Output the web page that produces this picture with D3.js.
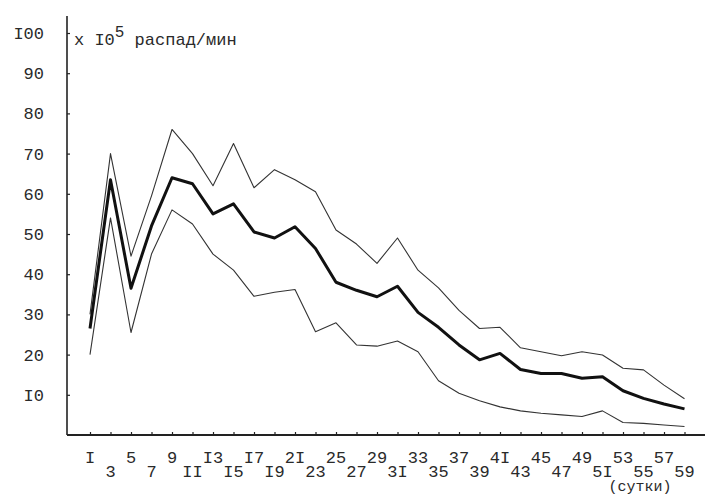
<!DOCTYPE html>
<html>
<head>
<meta charset="utf-8">
<script src="https://cdn.jsdelivr.net/npm/d3@7"></script>
<style>
  html, body { margin: 0; padding: 0; background: #fff; }
  svg { display: block; }
  text { font-family: "Liberation Mono", "DejaVu Sans Mono", monospace; fill: #2a2a2a; }
</style>
</head>
<body>
<svg id="chart" width="705" height="495"></svg>
<script>
// Days of observation (every second day)
const days = [1, 3, 5, 7, 9, 11, 13, 15, 17, 19, 21, 23, 25, 27, 29,
              31, 33, 35, 37, 39, 41, 43, 45, 47, 49, 51, 53, 55, 57, 59];

// Activity, x 10^5 decays per minute
const upperValues = [30, 70, 44.5, 59.5, 76, 70, 62, 72.5, 61.5, 66, 63.5, 60.5, 51, 47.5, 42.7,
                     49, 41, 36.6, 31, 26.5, 26.8, 21.7, 20.7, 19.7, 20.7, 19.9, 16.6, 16.2, 12.4, 9];
const meanValues  = [26.5, 63.5, 36.5, 52, 64, 62.5, 55, 57.5, 50.5, 49, 51.8, 46.4, 38, 36, 34.4,
                     37, 30.5, 26.8, 22.4, 18.7, 20.3, 16.3, 15.3, 15.3, 14.1, 14.5, 11, 9.1, 7.7, 6.5];
const lowerValues = [20, 54, 25.5, 45, 56, 52.5, 45, 41, 34.5, 35.5, 36.2, 25.7, 27.9, 22.4, 22.1,
                     23.4, 20.7, 13.5, 10.4, 8.5, 7, 6, 5.4, 5, 4.6, 6, 3.1, 2.9, 2.5, 2.1];

// Axis labels (typewriter style, "I" stands for the digit one)
const dayLabels = ["I", "3", "5", "7", "9", "II", "I3", "I5", "I7", "I9", "2I", "23", "25", "27", "29",
                   "3I", "33", "35", "37", "39", "4I", "43", "45", "47", "49", "5I", "53", "55", "57", "59"];
const yTicks = [10, 20, 30, 40, 50, 60, 70, 80, 90, 100];
const yTickLabels = ["I0", "20", "30", "40", "50", "60", "70", "80", "90", "I00"];

const svg = d3.select("#chart");

const x = d3.scaleLinear().domain([1, 59]).range([90, 684.5]);
const y = d3.scaleLinear().domain([0, 100]).range([435, 33]);

const axisX0 = 67;

// Y axis: vertical line with short ticks to the right
const yAxis = d3.axisRight(y)
  .tickValues(yTicks)
  .tickSize(3)
  .tickFormat(() => "");
const gy = svg.append("g").attr("transform", `translate(${axisX0},0)`).call(yAxis);
gy.select(".domain").remove();
gy.selectAll(".tick line").attr("stroke", "#222").attr("stroke-width", 1.2);
svg.append("line")
  .attr("x1", axisX0).attr("x2", axisX0)
  .attr("y1", 16).attr("y2", y(0))
  .attr("stroke", "#222").attr("stroke-width", 1.6);

svg.append("g").selectAll("text")
  .data(yTicks)
  .join("text")
  .attr("x", 44)
  .attr("y", d => y(d))
  .attr("dy", "0.35em")
  .attr("text-anchor", "end")
  .attr("font-size", 17)
  .text((d, i) => yTickLabels[i]);

// X axis: baseline with short upward ticks at every second day
const xAxis = d3.axisTop(x)
  .tickValues(days)
  .tickSize(3)
  .tickFormat(() => "");
const gx = svg.append("g").attr("transform", `translate(0,${y(0)})`).call(xAxis);
gx.select(".domain").remove();
gx.selectAll(".tick line").attr("stroke", "#222").attr("stroke-width", 1.2);
svg.append("line")
  .attr("x1", axisX0).attr("x2", 705)
  .attr("y1", y(0)).attr("y2", y(0))
  .attr("stroke", "#222").attr("stroke-width", 1.8);

// Day labels alternate between two rows
svg.append("g").selectAll("text")
  .data(days)
  .join("text")
  .attr("x", d => x(d))
  .attr("y", (d, i) => i % 2 === 0 ? 463 : 477)
  .attr("text-anchor", "middle")
  .attr("font-size", 17)
  .text((d, i) => dayLabels[i]);

svg.append("text")
  .attr("x", 640).attr("y", 491)
  .attr("text-anchor", "middle")
  .attr("font-size", 15)
  .text("(сутки)");

// Unit label next to the top of the y axis
const unit = svg.append("text").attr("x", 74).attr("y", 45).attr("font-size", 17);
unit.append("tspan").text("x I0");
unit.append("tspan").attr("dy", -8).attr("font-size", 16).text("5");
unit.append("tspan").attr("dy", 8).text(" распад/мин");

// Series lines
const line = d3.line().x((d, i) => x(days[i])).y(d => y(d));

svg.append("path")
  .datum(upperValues)
  .attr("d", line)
  .attr("fill", "none")
  .attr("stroke", "#333")
  .attr("stroke-width", 1.1)
  .attr("stroke-linejoin", "round");

svg.append("path")
  .datum(lowerValues)
  .attr("d", line)
  .attr("fill", "none")
  .attr("stroke", "#333")
  .attr("stroke-width", 1.1)
  .attr("stroke-linejoin", "round");

svg.append("path")
  .datum(meanValues)
  .attr("d", line)
  .attr("fill", "none")
  .attr("stroke", "#111")
  .attr("stroke-width", 3)
  .attr("stroke-linejoin", "round");
</script>
</body>
</html>
